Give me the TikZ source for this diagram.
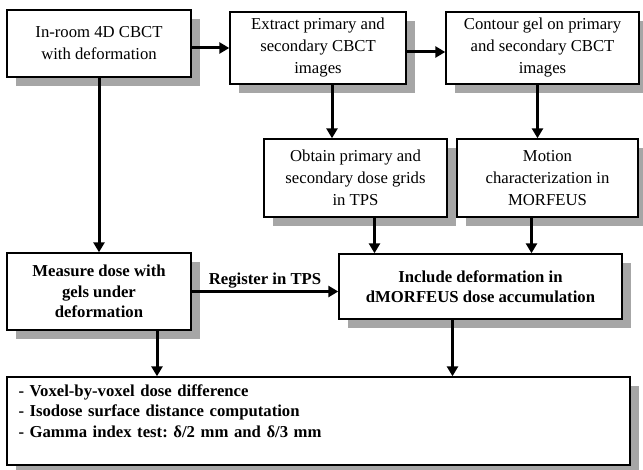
\documentclass[tikz,border=0pt]{standalone}
\usepackage{fontspec}
\setmainfont{Liberation Serif}
\frenchspacing
\usetikzlibrary{arrows.meta,positioning,shadows}

\begin{document}
\begin{tikzpicture}[
    x=1pt, y=-1pt,
    box/.style={rectangle, draw=black, line width=1.4pt, fill=white, align=center, inner sep=2pt, font=\fontsize{16.7}{22}\selectfont, drop shadow={shadow xshift=9pt, shadow yshift=-9pt, fill=black!35, opacity=1}},
    boldbox/.style={box, font=\fontsize{16.7}{20.5}\selectfont\bfseries},
    lbl/.style={font=\fontsize{16.7}{20.5}\selectfont\bfseries, inner sep=2pt},
    arrow/.style={-{Triangle[length=10pt,width=11pt]}, line width=3pt}
]
\useasboundingbox (0,0) rectangle (643,470);

% Top row
\node[box, minimum width=184pt, minimum height=67pt] (inroom) at (99,43.5) {In-room 4D CBCT\\with deformation};
\node[box, minimum width=176pt, minimum height=72pt] (extract) at (318,48) {Extract primary and\\secondary CBCT\\images};
\node[box, minimum width=193pt, minimum height=72pt] (contour) at (542.5,48) {Contour gel on primary\\and secondary CBCT\\images};

% Second row
\node[box, minimum width=183pt, minimum height=78pt] (obtain) at (355.5,178) {Obtain primary and\\secondary dose grids\\in TPS};
\node[box, minimum width=181pt, minimum height=78pt] (motion) at (547.5,178) {Motion\\characterization in\\MORFEUS};

% Dose boxes
\node[boldbox, minimum width=184pt, minimum height=77pt] (measure) at (99,291.5) {Measure dose with\\gels under\\deformation};
\node[boldbox, minimum width=283pt, minimum height=65pt] (include) at (480.5,286.5) {Include deformation in\\dMORFEUS dose accumulation};

% Comparison box
\node[boldbox, minimum width=623pt, minimum height=88pt, text width=600pt, align=left] (results) at (318.5,421) {- Voxel-by-voxel dose difference\\- Isodose surface distance computation\\- Gamma index test: δ/2 mm and δ/3 mm\\\mbox{}};

% Arrows
\draw[arrow] (inroom.east |- extract.west) -- (extract.west);
\draw[arrow] ([yshift=-4pt]extract.east) -- ([yshift=-4pt]contour.west);
\draw[arrow] ([xshift=14pt]extract.south) -- ([xshift=14pt]extract.south |- obtain.north);
\draw[arrow] ([xshift=-5pt]contour.south) -- ([xshift=-5pt]contour.south |- motion.north);
\draw[arrow] (inroom.south) -- (measure.north);
\draw[arrow] ([xshift=19pt]obtain.south) -- ([xshift=19pt]obtain.south |- include.north);
\draw[arrow] ([xshift=-16pt]motion.south) -- ([xshift=-16pt]motion.south |- include.north);
\draw[arrow] (measure.east) -- node[lbl, above] (register) {Register in TPS} (measure.east -| include.west);
\draw[arrow] ([xshift=58pt]measure.south) -- ([xshift=58pt]measure.south |- results.north);
\draw[arrow] ([xshift=-28pt]include.south) -- ([xshift=-28pt]include.south |- results.north);
\end{tikzpicture}
\end{document}
